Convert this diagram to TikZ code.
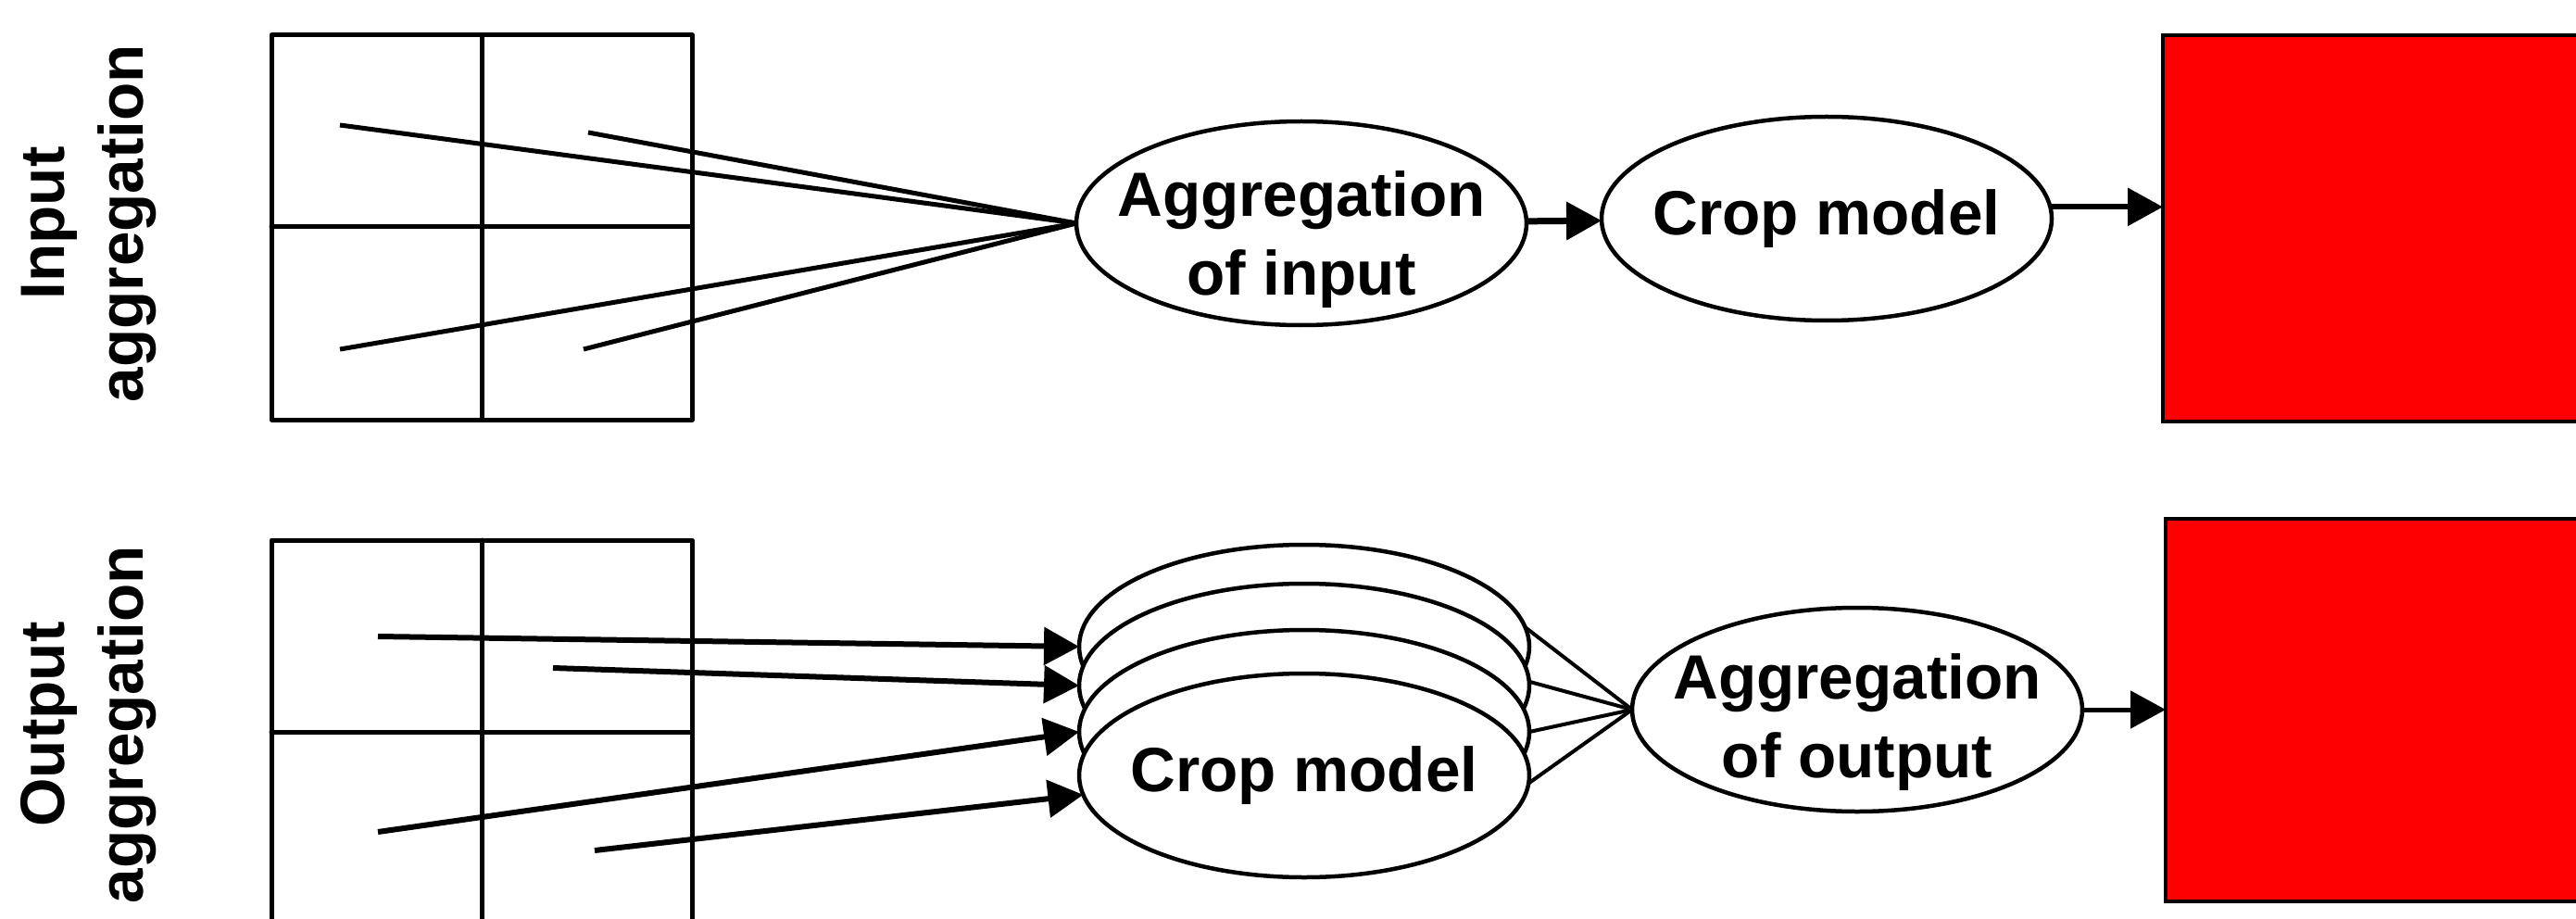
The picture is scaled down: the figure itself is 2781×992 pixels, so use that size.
\documentclass[tikz,border=0pt]{standalone}
\usepackage{fontspec}
\setmainfont{Liberation Sans}
\usetikzlibrary{shapes.geometric,arrows.meta}
\begin{document}
\begin{tikzpicture}[x=1pt,y=-1pt,
  every node/.style={font=\fontsize{67.5}{85}\selectfont\bfseries},
  oval/.style={ellipse,draw,line width=4.5pt,fill=white,
    minimum width=486pt,minimum height=220pt,inner sep=0pt,outer sep=0pt},
  gridline/.style={line width=5pt,line cap=round,line join=round},
  feed/.style={line width=5pt},
  fan/.style={line width=4pt},
  arr/.style={line width=7pt,-{Triangle[length=38pt,width=40pt]}},
  redbox/.style={rectangle,draw,fill=red,line width=4pt,anchor=north west,
    inner sep=0pt,outer sep=0pt,minimum width=480pt},
  sidelabel/.style={rotate=90,align=center}
]
\clip (0,0) rectangle (2781,992);
\fill[white] (0,0) rectangle (2781,992);

% ---------- row labels ----------
\node[sidelabel] (labIn)  at (96,241) {Input\\aggregation};
\node[sidelabel] (labOut) at (96,782) {Output\\aggregation};

% ---------- upper grid ----------
\draw[gridline] (293,38) rectangle (747,453);
\draw[gridline] (520,38) -- (520,453);
\draw[gridline] (293,245) -- (747,245);

% ---------- lower grid ----------
\draw[gridline] (293,583) rectangle (747,1010);
\draw[gridline] (520,583) -- (520,1010);
\draw[gridline] (293,790) -- (747,790);

% ---------- upper chain ----------
\node[oval] (ain) at (1405,241) {};
\node[align=center,yshift=-18pt] at (ain) {Aggregation\\of input};
\node[oval] (cropA) at (1972,236) {};
\node at (cropA) {Crop model};
\node[redbox,minimum height=417pt] (redA) at (2335,38) {};

\coordinate (p1) at (367,135);
\coordinate (p2) at (635,143);
\coordinate (p3) at (367,377);
\coordinate (p4) at (630,377);
\foreach \p in {p1,p2,p3,p4} \draw[feed] (\p) -- (ain.west);

\draw[arr] (ain) -- (cropA);
\draw[arr,line width=6pt] (cropA.3) -- (cropA.3 -| redA.west);

% ---------- lower chain ----------
\node[oval] (e1) at (1408,698) {};
\node[oval] (e2) at (1408,740) {};
\node[oval] (e3) at (1408,790) {};
\node[oval] (e4) at (1408,837) {};
\node at (e4) {Crop model};

\node[oval] (aout) at (2005,766) {};
\node[align=center,yshift=-14pt] at (aout) {Aggregation\\of output};
\node[redbox,minimum height=413pt] (redB) at (2338,560) {};

\coordinate (q1) at (408,687);
\coordinate (q2) at (597,721);
\coordinate (q3) at (408,898);
\coordinate (q4) at (642,918);
\draw[arr,line width=6pt] (q1) -- (e1.west);
\draw[arr,line width=6pt] (q2) -- (e2.west);
\draw[arr,line width=6pt] (q3) -- (e3.west);
\draw[arr,line width=6pt] (q4) -- (e4.185);

\draw[fan] (e1.5)  -- (aout.west);
\draw[fan] (e2.1)  -- (aout.west);
\draw[fan] (e3.east) -- (aout.west);
\draw[fan] (e4.-2) -- (aout.west);

\draw[arr,line width=5pt] (aout.east) -- (aout.east -| redB.west);
\end{tikzpicture}
\end{document}
